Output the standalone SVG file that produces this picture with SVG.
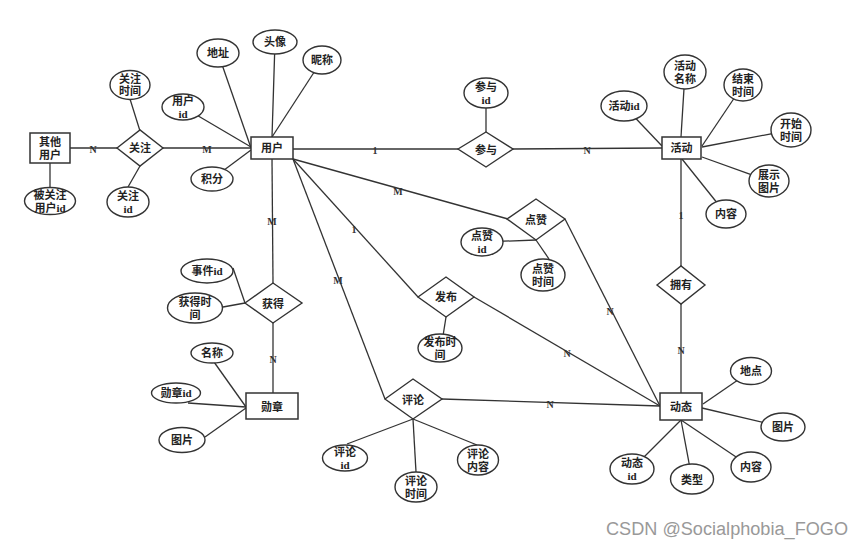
<svg xmlns="http://www.w3.org/2000/svg" width="865" height="548" viewBox="0 0 865 548">
<style>
.e{fill:#fff;stroke:#333;stroke-width:1.4}
.r{fill:#fff;stroke:#333;stroke-width:1.5}
.d{fill:#fff;stroke:#333;stroke-width:1.4}
.c line{stroke:#333;stroke-width:1.3}
text{font-family:"Liberation Serif","Noto Sans CJK SC",serif;font-size:11px;font-weight:bold;fill:#222;text-anchor:middle;dominant-baseline:central}
.lb{font-size:10px;fill:#333}
.wm{font-family:"Liberation Sans","Noto Sans",sans-serif;font-size:18px;font-weight:normal;fill:#999;text-anchor:start;dominant-baseline:alphabetic}
</style>
<rect width="865" height="548" fill="#fff"/>
<g id="connectors" class="c">
<line x1="70" y1="148" x2="117" y2="148"/>
<line x1="163" y1="148" x2="251" y2="148"/>
<line x1="50" y1="163" x2="50" y2="188"/>
<line x1="130" y1="99" x2="140" y2="131"/>
<line x1="140" y1="166" x2="128" y2="187"/>
<line x1="251" y1="147" x2="183" y2="107"/>
<line x1="251" y1="148" x2="218" y2="53"/>
<line x1="251" y1="150" x2="212" y2="179"/>
<line x1="272" y1="137" x2="275" y2="42"/>
<line x1="272" y1="137" x2="322" y2="60"/>
<line x1="272" y1="159" x2="273" y2="283"/>
<line x1="293" y1="149" x2="458" y2="149"/>
<line x1="293" y1="159" x2="508" y2="219"/>
<line x1="293" y1="159" x2="418" y2="297"/>
<line x1="293" y1="159" x2="385" y2="399"/>
<line x1="486" y1="93" x2="486" y2="132"/>
<line x1="513" y1="149" x2="662" y2="148"/>
<line x1="662" y1="146" x2="624" y2="106"/>
<line x1="681" y1="137" x2="685" y2="72"/>
<line x1="702" y1="146" x2="743" y2="85"/>
<line x1="702" y1="147" x2="791" y2="130"/>
<line x1="702" y1="157" x2="769" y2="181"/>
<line x1="682" y1="159" x2="726" y2="214"/>
<line x1="681" y1="159" x2="681" y2="266"/>
<line x1="681" y1="304" x2="681" y2="393"/>
<line x1="703" y1="404" x2="751" y2="371"/>
<line x1="702" y1="408" x2="783" y2="427"/>
<line x1="681" y1="420" x2="751" y2="467"/>
<line x1="681" y1="420" x2="692" y2="479"/>
<line x1="681" y1="420" x2="632" y2="469"/>
<line x1="442" y1="399" x2="660" y2="406"/>
<line x1="474" y1="297" x2="660" y2="406"/>
<line x1="565" y1="219" x2="660" y2="406"/>
<line x1="536" y1="240" x2="482" y2="242"/>
<line x1="536" y1="240" x2="549" y2="259"/>
<line x1="446" y1="317" x2="443" y2="336"/>
<line x1="413" y1="419" x2="347" y2="444"/>
<line x1="413" y1="419" x2="416" y2="472"/>
<line x1="413" y1="419" x2="477" y2="445"/>
<line x1="233" y1="268" x2="245" y2="303"/>
<line x1="223" y1="307" x2="245" y2="303"/>
<line x1="273" y1="323" x2="273" y2="393"/>
<line x1="214" y1="362" x2="246" y2="407"/>
<line x1="188" y1="403" x2="246" y2="407"/>
<line x1="205" y1="437" x2="246" y2="408"/>
</g>
<g id="labels">
<text class="lb" x="93" y="149">N</text>
<text class="lb" x="207" y="149">M</text>
<text class="lb" x="375" y="150">1</text>
<text class="lb" x="587" y="150">N</text>
<text class="lb" x="398" y="191">M</text>
<text class="lb" x="354" y="229">1</text>
<text class="lb" x="338" y="280">M</text>
<text class="lb" x="272" y="221">M</text>
<text class="lb" x="273" y="359">N</text>
<text class="lb" x="681" y="215">1</text>
<text class="lb" x="681" y="350">N</text>
<text class="lb" x="610" y="311">N</text>
<text class="lb" x="567" y="353">N</text>
<text class="lb" x="550" y="404">N</text>
</g>
<g id="qitayonghu"><rect class="r" x="30" y="133" width="40" height="30"/><text x="50" y="142">其他</text><text x="50" y="155">用户</text></g>
<g id="beiguanzhuyonghuid"><ellipse class="e" cx="50" cy="201" rx="25.5" ry="13.5"/><text x="50" y="195">被关注</text><text x="50" y="208">用户id</text></g>
<g id="guanzhu"><polygon class="d" points="117,148 140,130 163,148 140,166"/><text x="140" y="148">关注</text></g>
<g id="guanzhushijian"><ellipse class="e" cx="130" cy="85" rx="20" ry="14.5"/><text x="130" y="79">关注</text><text x="130" y="91">时间</text></g>
<g id="guanzhuid"><ellipse class="e" cx="128" cy="202" rx="21" ry="15"/><text x="128" y="196">关注</text><text x="128" y="209">id</text></g>
<g id="yonghu"><rect class="r" x="251" y="137" width="42" height="22"/><text x="272" y="148">用户</text></g>
<g id="yonghuid"><ellipse class="e" cx="183" cy="107" rx="21" ry="13"/><text x="183" y="101">用户</text><text x="183" y="114">id</text></g>
<g id="jifen"><ellipse class="e" cx="212" cy="179" rx="21" ry="12"/><text x="212" y="179">积分</text></g>
<g id="dizhi"><ellipse class="e" cx="218" cy="53" rx="21" ry="14"/><text x="218" y="53">地址</text></g>
<g id="touxiang"><ellipse class="e" cx="275" cy="42" rx="22" ry="12"/><text x="275" y="42">头像</text></g>
<g id="nicheng"><ellipse class="e" cx="322" cy="60" rx="19" ry="14"/><text x="322" y="60">昵称</text></g>
<g id="canyu"><polygon class="d" points="458,149 486,132 513,149 486,167"/><text x="486" y="150">参与</text></g>
<g id="canyuid"><ellipse class="e" cx="486" cy="93" rx="22" ry="15"/><text x="486" y="87">参与</text><text x="486" y="100">id</text></g>
<g id="huodong"><rect class="r" x="662" y="137" width="39" height="22"/><text x="681.5" y="148">活动</text></g>
<g id="huodongid"><ellipse class="e" cx="624" cy="106" rx="23" ry="15"/><text x="624" y="106">活动id</text></g>
<g id="huodongmingcheng"><ellipse class="e" cx="685" cy="72" rx="21" ry="17"/><text x="685" y="66">活动</text><text x="685" y="79">名称</text></g>
<g id="jieshushijian"><ellipse class="e" cx="743" cy="85" rx="19" ry="16"/><text x="743" y="79">结束</text><text x="743" y="92">时间</text></g>
<g id="kaishishijian"><ellipse class="e" cx="791" cy="130" rx="20" ry="17"/><text x="791" y="124">开始</text><text x="791" y="137">时间</text></g>
<g id="zhanshitupian"><ellipse class="e" cx="769" cy="181" rx="20" ry="16"/><text x="769" y="175">展示</text><text x="769" y="188">图片</text></g>
<g id="huodongneirong"><ellipse class="e" cx="726" cy="214" rx="20" ry="14"/><text x="726" y="214">内容</text></g>
<g id="yongyou"><polygon class="d" points="657,285 681,266 705,285 681,304"/><text x="681" y="285">拥有</text></g>
<g id="dongtai"><rect class="r" x="660" y="393" width="42" height="27"/><text x="681" y="407">动态</text></g>
<g id="didian"><ellipse class="e" cx="751" cy="371" rx="20.5" ry="13.5"/><text x="751" y="371">地点</text></g>
<g id="dongtaitupian"><ellipse class="e" cx="783" cy="427" rx="22" ry="14"/><text x="783" y="427">图片</text></g>
<g id="dongtaineirong"><ellipse class="e" cx="751" cy="467" rx="20" ry="15"/><text x="751" y="467">内容</text></g>
<g id="leixing"><ellipse class="e" cx="692" cy="479" rx="21.5" ry="15"/><text x="692" y="480">类型</text></g>
<g id="dongtaiid"><ellipse class="e" cx="632" cy="469" rx="22" ry="15"/><text x="632" y="463">动态</text><text x="632" y="476">id</text></g>
<g id="dianzan"><polygon class="d" points="507,219 536,199 565,219 536,240"/><text x="536" y="220">点赞</text></g>
<g id="dianzanid"><ellipse class="e" cx="482" cy="242" rx="21" ry="14"/><text x="482" y="236">点赞</text><text x="482" y="249">id</text></g>
<g id="dianzanshijian"><ellipse class="e" cx="543" cy="275" rx="22" ry="16"/><text x="543" y="269">点赞</text><text x="543" y="282">时间</text></g>
<g id="fabu"><polygon class="d" points="418,297 446,277 474,297 446,317"/><text x="446" y="297">发布</text></g>
<g id="fabushijian"><ellipse class="e" cx="440" cy="348" rx="22" ry="14"/><text x="440" y="342">发布时</text><text x="440" y="355">间</text></g>
<g id="pinglun"><polygon class="d" points="385,399 413,379 442,399 413,419"/><text x="413" y="400">评论</text></g>
<g id="pinglunid"><ellipse class="e" cx="345" cy="458" rx="22.5" ry="13"/><text x="345" y="452">评论</text><text x="345" y="465">id</text></g>
<g id="pinglunshijian"><ellipse class="e" cx="416" cy="487" rx="21" ry="15"/><text x="416" y="481">评论</text><text x="416" y="494">时间</text></g>
<g id="pinglunneirong"><ellipse class="e" cx="478" cy="460" rx="20.5" ry="15"/><text x="478" y="454">评论</text><text x="478" y="467">内容</text></g>
<g id="huode"><polygon class="d" points="245,303 273,283 302,303 273,323"/><text x="273" y="304">获得</text></g>
<g id="shijianid"><ellipse class="e" cx="207" cy="271" rx="26" ry="12"/><text x="207" y="271">事件id</text></g>
<g id="huodeshijian"><ellipse class="e" cx="195" cy="308" rx="27.5" ry="15"/><text x="195" y="302">获得时</text><text x="195" y="315">间</text></g>
<g id="xunzhang"><rect class="r" x="246" y="393" width="52" height="26"/><text x="272" y="407">勋章</text></g>
<g id="mingcheng"><ellipse class="e" cx="212" cy="353" rx="21" ry="10"/><text x="212" y="353">名称</text></g>
<g id="xunzhangid"><ellipse class="e" cx="176" cy="393" rx="24.5" ry="10"/><text x="176" y="393">勋章id</text></g>
<g id="xunzhangtupian"><ellipse class="e" cx="182" cy="440" rx="23" ry="12.5"/><text x="182" y="440">图片</text></g>
<text class="wm" x="606" y="535" textLength="242" lengthAdjust="spacingAndGlyphs">CSDN @Socialphobia_FOGO</text>
</svg>
